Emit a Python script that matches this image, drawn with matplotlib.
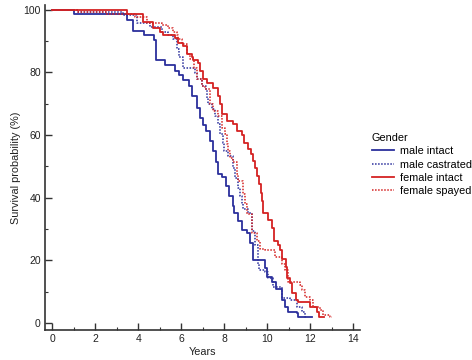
import matplotlib
matplotlib.use("Agg")
import matplotlib.pyplot as plt
from matplotlib.ticker import MultipleLocator

plt.rcParams["font.family"] = ["Liberation Sans", "DejaVu Sans"]

# Kaplan-Meier steps: time (years) of each drop, survival (%) after it
mi_t = [0, 1.02, 3.49, 3.77, 4.28, 4.74, 4.84, 5.26, 5.72, 5.91, 6.09, 6.37, 6.51, 6.74,
        6.88, 7.02, 7.16, 7.35, 7.49, 7.63, 7.72, 7.91, 8.09, 8.23, 8.42, 8.47, 8.65,
        8.84, 9.07, 9.21, 9.35, 9.90, 10.0, 10.23, 10.42, 10.70, 10.84, 10.98, 11.37,
        11.42, 12.09]
mi_s = [100, 98.7, 96.8, 93.3, 92.0, 90.2, 83.8, 82.2, 80.3, 79.0, 77.5, 75.6, 72.4, 68.6,
        65.4, 63.2, 61.3, 58.0, 54.9, 51.4, 47.6, 46.7, 43.8, 40.6, 37.5, 35.2, 32.7,
        29.8, 28.6, 25.4, 20.0, 17.5, 14.6, 13.0, 11.0, 7.3, 5.1, 3.5, 3.2,
        1.9, 1.9]

mc_t = [0, 1.2, 3.3, 3.95, 4.56, 5.12, 5.40, 5.63, 5.81, 5.91, 6.09, 6.65, 6.74, 6.98,
        7.16, 7.21, 7.26, 7.44, 7.58, 7.72, 7.81, 7.95, 8.0, 8.19, 8.42, 8.51, 8.65,
        8.74, 8.84, 8.88, 9.12, 9.30, 9.44, 9.58, 9.63, 9.91, 10.05, 10.28, 10.70,
        11.05, 11.40, 11.60, 11.77, 11.86]
mc_s = [100, 99.3, 98.3, 95.6, 94.6, 93.0, 92.0, 90.5, 87.6, 85.0, 81.3, 79.7, 77.8, 75.5,
        74.3, 71.7, 69.8, 68.3, 66.0, 63.5, 60.3, 57.5, 55.0, 53.3, 49.5, 46.3, 43.2,
        40.6, 38.0, 36.5, 35.0, 29.5, 24.8, 19.0, 16.8, 16.2, 14.3, 11.4, 7.9,
        7.3, 5.1, 3.5, 1.9, 1.9]

fi_t = [0, 3.49, 4.23, 4.70, 5.02, 5.16, 5.72, 5.86, 6.09, 6.28, 6.51, 6.56, 6.79, 6.88,
        7.02, 7.21, 7.49, 7.72, 7.81, 7.91, 8.14, 8.42, 8.60, 8.84, 8.93, 9.12, 9.26,
        9.35, 9.44, 9.53, 9.63, 9.72, 9.77, 9.81, 10.05, 10.23, 10.33, 10.51, 10.60,
        10.70, 10.88, 10.93, 11.07, 11.16, 11.35, 11.44, 11.98, 12.33, 12.42, 12.65]
fi_s = [100, 98.7, 96.2, 94.0, 93.0, 92.0, 90.8, 89.2, 88.3, 86.0, 85.0, 84.0, 82.9, 80.3,
        77.8, 76.5, 74.9, 72.4, 69.8, 66.7, 64.4, 63.5, 61.3, 60.0, 57.5, 55.6, 54.0,
        51.7, 49.5, 47.0, 44.4, 41.6, 39.0, 35.2, 33.0, 30.5, 26.3, 25.0, 23.2,
        20.6, 17.8, 14.3, 12.7, 9.5, 7.3, 6.7, 5.1, 3.5, 1.9, 1.9]

fs_t = [0, 1.2, 2.5, 3.86, 4.42, 5.12, 5.40, 5.63, 5.81, 5.86, 6.05, 6.28, 6.42, 6.60,
        6.74, 6.98, 7.12, 7.35, 7.49, 7.72, 7.91, 8.05, 8.14, 8.19, 8.28, 8.42, 8.60,
        8.65, 8.88, 8.98, 9.07, 9.30, 9.53, 9.67, 9.91, 10.37, 10.70, 10.84, 10.98,
        11.53, 11.63, 11.77, 12.0, 12.14, 12.47, 12.60, 12.93, 13.02]
fs_s = [100, 99.3, 98.7, 97.8, 95.6, 95.0, 94.0, 93.0, 92.0, 90.5, 88.9, 85.7, 84.1, 81.5,
        78.0, 75.5, 74.6, 69.8, 67.6, 66.0, 62.2, 60.3, 57.1, 55.0, 52.7, 51.5, 47.6,
        45.4, 41.3, 38.1, 34.9, 28.9, 26.3, 23.8, 23.2, 21.0, 19.0, 16.8, 13.0,
        12.0, 10.5, 8.3, 7.3, 5.1, 4.1, 2.5, 1.9, 1.9]

BLUE = "#2b2f9c"
RED = "#d42222"
AX = "#333333"

fig = plt.figure(figsize=(4.72, 3.6), dpi=100)
ax = fig.add_axes([0.0953, 0.0833, 0.667, 0.903])

ax.step(mi_t, mi_s, where="post", color=BLUE, lw=1.3, label="male intact")
ax.step(mc_t, mc_s, where="post", color=BLUE, lw=1.1, ls=(0, (1, 1)), label="male castrated")
ax.step(fi_t, fi_s, where="post", color=RED, lw=1.3, label="female intact")
ax.step(fs_t, fs_s, where="post", color=RED, lw=1.1, ls=(0, (1, 1)), label="female spayed")

ax.set_xlim(-0.33, 14.3)
ax.set_ylim(-2.2, 101.5)
ax.xaxis.set_major_locator(MultipleLocator(2))
ax.xaxis.set_minor_locator(MultipleLocator(1))
ax.yaxis.set_major_locator(MultipleLocator(20))
ax.yaxis.set_minor_locator(MultipleLocator(10))
for s in ["top", "right"]:
    ax.spines[s].set_visible(False)
for s in ["left", "bottom"]:
    ax.spines[s].set_color(AX)
    ax.spines[s].set_linewidth(1.2)
ax.tick_params(which="major", direction="in", length=5, width=1, color=AX,
               labelsize=7.5, labelcolor="#222222", pad=3)
ax.tick_params(which="minor", direction="in", length=2.5, width=0.8, color=AX)

ax.set_xlabel("Years", fontsize=7.8, color="#222222", labelpad=2)
ax.set_ylabel("Survival probability (%)", fontsize=7.8, color="#222222", labelpad=2)

leg = ax.legend(title="Gender", loc="upper left", bbox_to_anchor=(372 / 472, 1 - 133 / 360),
                bbox_transform=fig.transFigure, frameon=False, fontsize=7.8,
                title_fontsize=7.8, handlelength=2.0, handletextpad=0.6,
                labelspacing=0.3, borderpad=0, borderaxespad=0, alignment="left")

fig.savefig("out.png", dpi=100)
